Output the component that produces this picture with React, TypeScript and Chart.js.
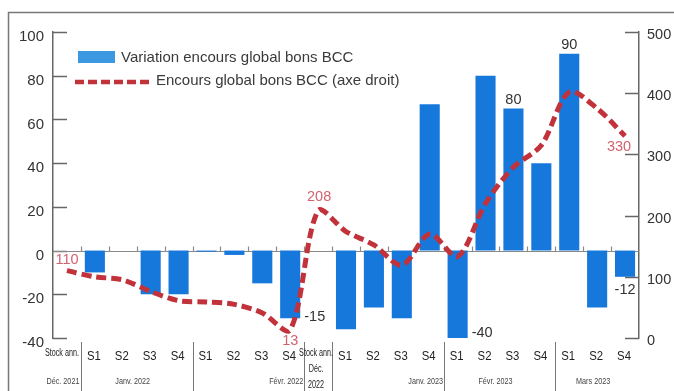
import React, { useEffect, useRef } from "react";
import { Chart, registerables } from "chart.js";

Chart.register(...registerables);

// ---------- data ----------
const categories: (string | string[])[] = [
  "Stock ann.",
  "S1", "S2", "S3", "S4",
  "S1", "S2", "S3", "S4",
  ["Stock ann.", "Déc.", "2022"],
  "S1", "S2", "S3", "S4",
  "S1", "S2", "S3", "S4",
  "S1", "S2", "S4",
];
const groupLabels = ["Déc. 2021", "Janv. 2022", "Févr. 2022", "Janv. 2023", "Févr. 2023", "Mars 2023"];
const groupFirst = [0, 1, 5, 10, 14, 18];
const groupLast = [0, 4, 8, 13, 17, 20];
const separatorsAfter = [0, 4, 8, 9, 13, 17];

const variation = [null, -10, 0, -20, -20, -0.5, -2, -15, -31, null, -36, -26, -31, 67, -40, 80, 65, 40, 90, -26, -12];
const encours = [110, 100, 95, 76, 61, 59, 55, 41, 13, 208, 174, 152, 119, 170, 133, 220, 279, 315, 402, 375, 330];

const seriesNames = ["Variation encours global bons BCC", "Encours global bons BCC (axe droit)"];

const leftMin = -40, leftMax = 100, leftStep = 20;
const rightMin = 0, rightMax = 500, rightStep = 100;

const encoursLabels = [
  { index: 0, text: "110" },
  { index: 8, text: "13" },
  { index: 9, text: "208" },
  { index: 20, text: "330" },
];
const variationLabels = [
  { index: 8, text: "-15" },
  { index: 14, text: "-40" },
  { index: 16, text: "80" },
  { index: 18, text: "90" },
  { index: 20, text: "-12" },
];

// ---------- styles ----------
const SANS = "'Liberation Sans', Arial, sans-serif";
const BAR_COLOR = "#1778dc";
const LEGEND_BOX = "#3d98e2";
const LINE_COLOR = "#c1323b";
const LINE_LABEL = "#d2636e";
const TEXT = "#333333";
const AXIS = "#666666";

function scaledText(ctx: CanvasRenderingContext2D, text: string, x: number, y: number, sx: number) {
  ctx.save();
  ctx.translate(x, y);
  ctx.scale(sx, 1);
  ctx.fillText(text, 0, 0);
  ctx.restore();
}

const decorPlugin = {
  id: "decor",
  beforeDatasetsDraw(chart: any) {
    const { ctx, chartArea } = chart;
    const x = chart.scales.x;
    const y = chart.scales.y;
    const y1 = chart.scales.y1;
    ctx.save();
    // outer frame
    ctx.strokeStyle = "#777";
    ctx.lineWidth = 1.5;
    ctx.beginPath();
    ctx.moveTo(8.5, 391);
    ctx.lineTo(8.5, 12.5);
    ctx.lineTo(674, 12.5);
    ctx.stroke();

    // inward ticks
    ctx.strokeStyle = AXIS;
    ctx.lineWidth = 1.5;
    for (let v = leftMin; v <= leftMax; v += leftStep) {
      const py = Math.round(y.getPixelForValue(v)) + 0.5;
      ctx.beginPath();
      ctx.moveTo(chartArea.left, py);
      ctx.lineTo(chartArea.left + 14, py);
      ctx.stroke();
    }
    for (let v = rightMin; v <= rightMax; v += rightStep) {
      const py = Math.round(y1.getPixelForValue(v)) + 0.5;
      ctx.beginPath();
      ctx.moveTo(chartArea.right - 14, py);
      ctx.lineTo(chartArea.right, py);
      ctx.stroke();
    }

    // zero line with boundary ticks
    const y0 = Math.round(y.getPixelForValue(0)) + 0.5;
    ctx.strokeStyle = "#8a8a8a";
    ctx.lineWidth = 1.2;
    ctx.beginPath();
    ctx.moveTo(chartArea.left, y0);
    ctx.lineTo(chartArea.right, y0);
    ctx.stroke();
    for (let i = 0; i < categories.length - 1; i++) {
      const bx = Math.round((x.getPixelForValue(i) + x.getPixelForValue(i + 1)) / 2) + 0.5;
      ctx.beginPath();
      ctx.moveTo(bx, y0);
      ctx.lineTo(bx, y0 - 5);
      ctx.stroke();
    }

    // separators below axis
    ctx.strokeStyle = "#777";
    ctx.lineWidth = 1;
    separatorsAfter.forEach((i) => {
      const bx = Math.round((x.getPixelForValue(i) + x.getPixelForValue(i + 1)) / 2) + 0.5;
      ctx.beginPath();
      ctx.moveTo(bx, chartArea.bottom + 4);
      ctx.lineTo(bx, 391);
      ctx.stroke();
    });

    // category labels (first row)
    ctx.textAlign = "center";
    ctx.textBaseline = "middle";
    ctx.fillStyle = "#222";
    const labels = chart.data.labels as (string | string[])[];
    labels.forEach((lab, i) => {
      const cx = x.getPixelForValue(i);
      if (Array.isArray(lab)) {
        ctx.font = `10px ${SANS}`;
        lab.forEach((line, k) => scaledText(ctx, line, cx - 2, 353 + k * 16, 0.72));
      } else if (lab.length > 3) {
        ctx.font = `10px ${SANS}`;
        scaledText(ctx, lab, cx - 5, 353, 0.72);
      } else {
        ctx.font = `13.5px ${SANS}`;
        scaledText(ctx, lab, cx - 1, 356, 0.84);
      }
    });

    // group labels (second row)
    ctx.fillStyle = "#444";
    ctx.font = `9.5px ${SANS}`;
    const anchors = ["center", "center", "last", "last", "center", "center"];
    groupLabels.forEach((g, k) => {
      let gx: number;
      if (anchors[k] === "last") gx = x.getPixelForValue(groupLast[k]);
      else gx = (x.getPixelForValue(groupFirst[k]) + x.getPixelForValue(groupLast[k])) / 2;
      scaledText(ctx, g, gx - 4, 381, 0.76);
    });
    ctx.restore();
  },
  afterDatasetsDraw(chart: any) {
    const { ctx } = chart;
    const barMeta = chart.getDatasetMeta(0);
    const lineMeta = chart.getDatasetMeta(1);
    ctx.save();
    ctx.textBaseline = "middle";

    // line labels
    ctx.fillStyle = LINE_LABEL;
    ctx.font = `14.5px ${SANS}`;
    ctx.textAlign = "center";
    const lineOff: Record<number, [number, number]> = { 0: [0, -11], 8: [0, 11], 9: [1, -14], 20: [-6, 11] };
    encoursLabels.forEach((l) => {
      const p = lineMeta.data[l.index];
      const o = lineOff[l.index] || [0, -12];
      ctx.fillText(l.text, p.x + o[0], p.y + o[1]);
    });

    // bar labels
    ctx.fillStyle = TEXT;
    ctx.font = `14.5px ${SANS}`;
    variationLabels.forEach((l) => {
      const b = barMeta.data[l.index];
      const v = variation[l.index] as number;
      const half = b.width / 2;
      if (l.index === 8 || l.index === 14) {
        ctx.textAlign = "left";
        ctx.fillText(l.text, b.x + half + 4, b.y - (l.index === 14 ? 5 : 1));
      } else if (v >= 0) {
        ctx.textAlign = "center";
        ctx.fillText(l.text, b.x, b.y - 9);
      } else {
        ctx.textAlign = "center";
        ctx.fillText(l.text, b.x, b.y + 13);
      }
    });

    // legend
    ctx.fillStyle = LEGEND_BOX;
    ctx.fillRect(78, 51, 37, 12);
    ctx.fillStyle = "#3a3a3a";
    ctx.font = `15px ${SANS}`;
    ctx.textAlign = "left";
    ctx.fillText(seriesNames[0], 121, 58);
    ctx.strokeStyle = LINE_COLOR;
    ctx.lineWidth = 4.5;
    ctx.setLineDash([9, 4]);
    ctx.beginPath();
    ctx.moveTo(75, 82);
    ctx.lineTo(149, 82);
    ctx.stroke();
    ctx.setLineDash([]);
    ctx.fillText(seriesNames[1], 156, 81);
    ctx.restore();
  },
};

export default function App() {
  const ref = useRef<HTMLCanvasElement>(null);
  useEffect(() => {
    const canvas = ref.current;
    if (!canvas) return;
    const chart = new Chart(canvas, {
      type: "bar",
      data: {
        labels: categories as any,
        datasets: [
          {
            type: "bar",
            label: seriesNames[0],
            data: variation as any,
            backgroundColor: BAR_COLOR,
            barPercentage: 0.72,
            categoryPercentage: 1,
            yAxisID: "y",
            order: 2,
          },
          {
            type: "line",
            label: seriesNames[1],
            data: encours,
            borderColor: LINE_COLOR,
            borderWidth: 5,
            borderDash: [10, 5],
            pointRadius: 0,
            tension: 0.3,
            fill: false,
            yAxisID: "y1",
            order: 1,
          },
        ],
      },
      options: {
        animation: false,
        responsive: false,
        layout: { padding: { top: 32, left: 0, right: 0, bottom: 0 } },
        plugins: { legend: { display: false }, tooltip: { enabled: false } },
        scales: {
          x: {
            type: "category",
            offset: true,
            grid: { display: false, drawTicks: false },
            border: { display: false },
            ticks: { display: false },
            afterFit: (s: any) => {
              s.height = 53;
            },
          },
          y: {
            position: "left",
            min: leftMin,
            max: leftMax,
            grid: { display: false, drawTicks: false },
            border: { display: true, color: AXIS, width: 1.5 },
            ticks: { stepSize: leftStep, padding: 9, labelOffset: 5, color: TEXT, font: { family: SANS, size: 15 } },
            afterFit: (s: any) => {
              s.width = 53;
            },
          },
          y1: {
            position: "right",
            min: rightMin,
            max: rightMax,
            grid: { display: false, drawTicks: false },
            border: { display: true, color: AXIS, width: 1.5 },
            ticks: { stepSize: rightStep, padding: 8, labelOffset: 3, color: TEXT, font: { family: SANS, size: 14.5 } },
            afterFit: (s: any) => {
              s.width = 35;
            },
          },
        },
      } as any,
      plugins: [decorPlugin],
    });
    return () => chart.destroy();
  }, []);
  return (
    <div style={{ position: "fixed", left: 0, top: 0, width: 674, height: 391, background: "#fff" }}>
      <canvas ref={ref} width={674} height={391} style={{ display: "block", width: 674, height: 391 }} />
    </div>
  );
}
